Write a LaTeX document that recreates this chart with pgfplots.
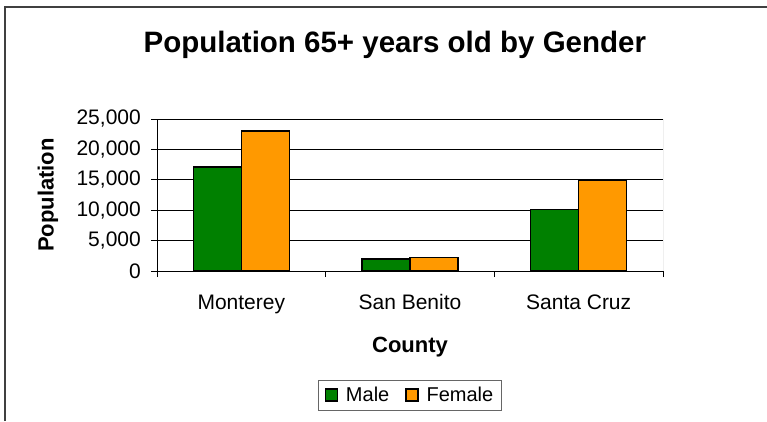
\documentclass[border=0pt]{standalone}
\usepackage{pgfplots}
\pgfplotsset{compat=1.18}
\usepackage{fontspec}
\setmainfont{Liberation Sans}
\definecolor{barGreen}{RGB}{0,128,0}
\definecolor{barOrange}{RGB}{255,153,0}
\begin{document}
\begin{tikzpicture}
\path[use as bounding box] (0pt,0pt) rectangle (767pt,421pt);
\draw[line width=1.5pt, black!75] (5pt,0pt) -- (5pt,414pt) -- (767pt,414pt);
\begin{axis}[
  at={(157pt,150pt)}, anchor=south west,
  scale only axis, width=506pt, height=152pt,
  ybar=0pt, bar width=48pt,
  xmin=-0.5, xmax=2.5, ymin=0, ymax=25000,
  axis x line*=bottom, axis y line*=left,
  axis line style={line width=1pt, black},
  xtick={-0.5,0.5,1.5,2.5}, xticklabels={},
  extra x ticks={0,1,2},
  extra x tick labels={Monterey,San Benito,Santa Cruz},
  extra x tick style={major tick length=0pt},
  ytick={0,5000,10000,15000,20000,25000},
  scaled y ticks=false,
  /pgf/number format/1000 sep={,},
  /pgf/number format/assume math mode=true,
  tick align=outside, major tick length=6pt,
  tick style={line width=1pt, black},
  ymajorgrids, grid style={line width=1pt, black},
  tick label style={font=\fontsize{21}{25}\selectfont},
  yticklabel style={anchor=east, inner sep=0pt, xshift=-10pt},
  xticklabel style={anchor=base, inner sep=0pt, yshift=-38pt},
  xlabel={County}, ylabel={Population},
  xlabel style={font=\bfseries\fontsize{22}{26}\selectfont, at={(axis description cs:0.5,-0.5)}, anchor=center},
  ylabel style={font=\bfseries\fontsize{22}{26}\selectfont, at={(axis description cs:-0.2154,0.5)}, anchor=center},
  title={Population 65+ years old by Gender},
  title style={font=\bfseries\fontsize{29.5}{33}\selectfont, at={(axis description cs:0.470,1.45)}, anchor=center},
  legend columns=2,
  legend style={at={(0.5,-0.816)}, anchor=center, draw=black!60, line width=1pt,
    font=\fontsize{20}{24}\selectfont, inner xsep=6pt, inner ysep=5pt,
    /tikz/every odd column/.append style={column sep=6pt},
    /tikz/every even column/.append style={column sep=14pt}},
  legend image code/.code={\draw[#1, line width=1.2pt] (0pt,-6pt) rectangle (12pt,6pt);},
]
\addplot[fill=barGreen, draw=black, line width=1.5pt] coordinates {(0,17100) (1,2000) (2,10100)};
\addplot[fill=barOrange, draw=black, line width=1.5pt] coordinates {(0,23000) (1,2250) (2,15000)};
\legend{Male,Female}
\draw[line width=1pt, black!50] (rel axis cs:1,0) -- (rel axis cs:1,1);
\end{axis}
\end{tikzpicture}
\end{document}
